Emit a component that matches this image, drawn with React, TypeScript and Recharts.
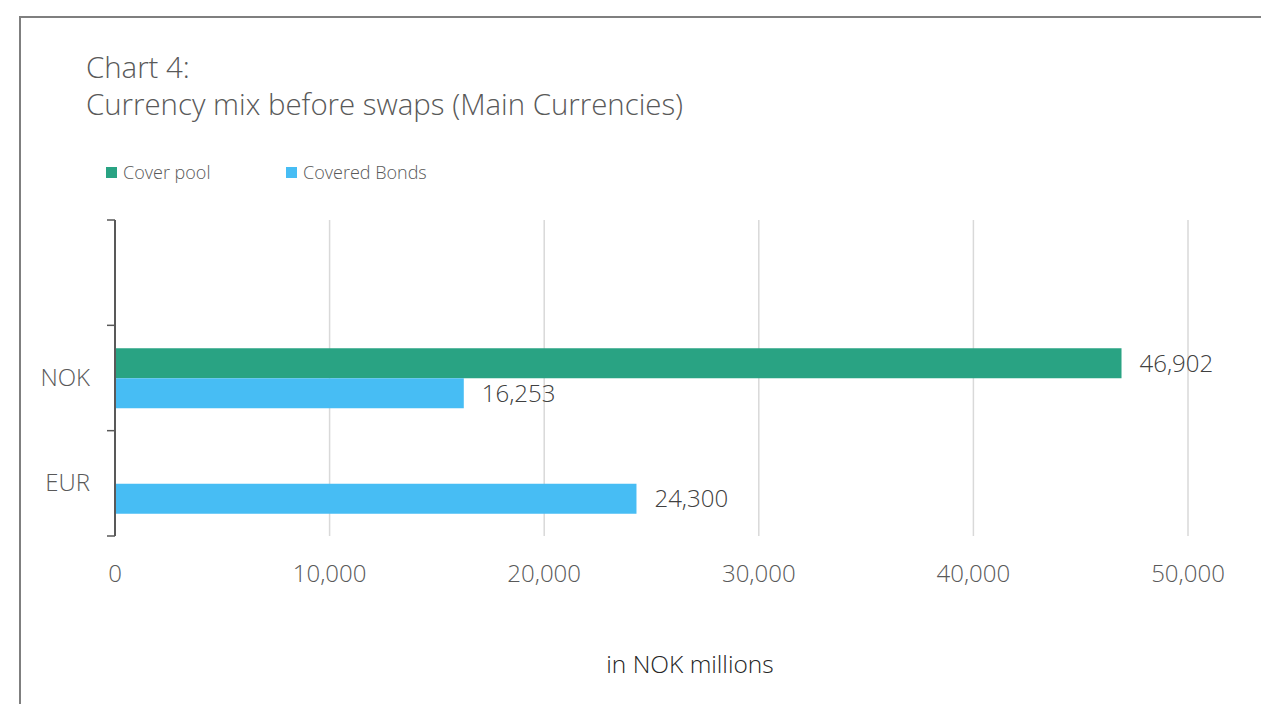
import { Bar, BarChart, CartesianGrid, LabelList, XAxis, YAxis } from "recharts";

const currencies = ["", "NOK", "EUR"];
const coverPool = [null, 46902, null];
const coveredBonds = [null, 16253, 24300];
const xTicks = [0, 10000, 20000, 30000, 40000, 50000];

const data = currencies.map((name, i) => ({
  name,
  coverPool: coverPool[i],
  coveredBonds: coveredBonds[i],
}));

const FONT = '"Open Sans", "Noto Sans", sans-serif';
const GREEN = "#29a383";
const BLUE = "#47bdf4";

const fmt = (v: unknown) => (typeof v === "number" ? v.toLocaleString("en-US") : "");

// Excel style: label in band centre, tick marks on band edges
function CurrencyTick(props: any) {
  const { x, y, payload, index, height, visibleTicksCount } = props;
  const band = height / visibleTicksCount;
  const axisX = x + 25;
  return (
    <g>
      <line x1={axisX - 8} x2={axisX} y1={y - band / 2} y2={y - band / 2} stroke="#595959" strokeWidth={1.5} />
      {index === visibleTicksCount - 1 && (
        <line x1={axisX - 8} x2={axisX} y1={y + band / 2} y2={y + band / 2} stroke="#595959" strokeWidth={1.5} />
      )}
      <text x={x} y={y} dy={8} textAnchor="end" fontSize={24} fontWeight={300} fill="#595959" fontFamily={FONT}>
        {payload.value}
      </text>
    </g>
  );
}

function LegendItem({ color, label, left }: { color: string; label: string; left: number }) {
  return (
    <div style={{ position: "absolute", left, top: 160, display: "flex", alignItems: "center" }}>
      <div style={{ width: 11, height: 11, background: color, marginRight: 6 }} />
      <span style={{ fontSize: 18, fontWeight: 300, color: "#595959" }}>{label}</span>
    </div>
  );
}

export default function App() {
  return (
    <div
      style={{
        position: "absolute",
        left: 0,
        top: 0,
        width: 1261,
        height: 704,
        background: "#fff",
        fontFamily: FONT,
        overflow: "hidden",
      }}
    >
      <div
        style={{
          position: "absolute",
          left: 19,
          top: 16,
          width: 1300,
          height: 800,
          borderTop: "2px solid #7f7f7f",
          borderLeft: "2px solid #7f7f7f",
        }}
      />
      <div
        style={{
          position: "absolute",
          left: 86,
          top: 49,
          fontSize: 29.4,
          fontWeight: 300,
          lineHeight: "37px",
          color: "#595959",
        }}
      >
        Chart 4:
        <br />
        Currency mix before swaps (Main Currencies)
      </div>
      <LegendItem color={GREEN} label="Cover pool" left={106} />
      <LegendItem color={BLUE} label="Covered Bonds" left={286} />

      <div style={{ position: "absolute", left: 0, top: 0 }}>
        <BarChart
          width={1261}
          height={704}
          data={data}
          layout="vertical"
          margin={{ top: 220, right: 73, left: 15, bottom: 138 }}
          barCategoryGap={22}
          barGap={0}
        >
          <CartesianGrid horizontal={false} stroke="#d9d9d9" strokeWidth={1.5} />
          <XAxis
            type="number"
            domain={[0, 50000]}
            ticks={xTicks}
            tickFormatter={fmt}
            axisLine={false}
            tickLine={false}
            tickMargin={23}
            height={30}
            tick={{ fontSize: 24, fontWeight: 300, fill: "#595959", fontFamily: FONT }}
          />
          <YAxis
            type="category"
            dataKey="name"
            width={100}
            axisLine={{ stroke: "#595959", strokeWidth: 2 }}
            tickLine={false}
            tickSize={8}
            tickMargin={17}
            interval={0}
            tick={<CurrencyTick />}
          />
          <Bar dataKey="coverPool" fill={GREEN} barSize={30} isAnimationActive={false}>
            <LabelList
              dataKey="coverPool"
              position="right"
              offset={18}
              formatter={fmt}
              style={{ fontSize: 24, fontWeight: 300, fill: "#404040", fontFamily: FONT }}
            />
          </Bar>
          <Bar dataKey="coveredBonds" fill={BLUE} barSize={30} isAnimationActive={false}>
            <LabelList
              dataKey="coveredBonds"
              position="right"
              offset={18}
              formatter={fmt}
              style={{ fontSize: 24, fontWeight: 300, fill: "#404040", fontFamily: FONT }}
            />
          </Bar>
        </BarChart>
      </div>

      <div
        style={{
          position: "absolute",
          left: 540,
          width: 300,
          top: 647,
          textAlign: "center",
          fontSize: 24.5,
          fontWeight: 300,
          color: "#262626",
        }}
      >
        in NOK millions
      </div>
    </div>
  );
}
